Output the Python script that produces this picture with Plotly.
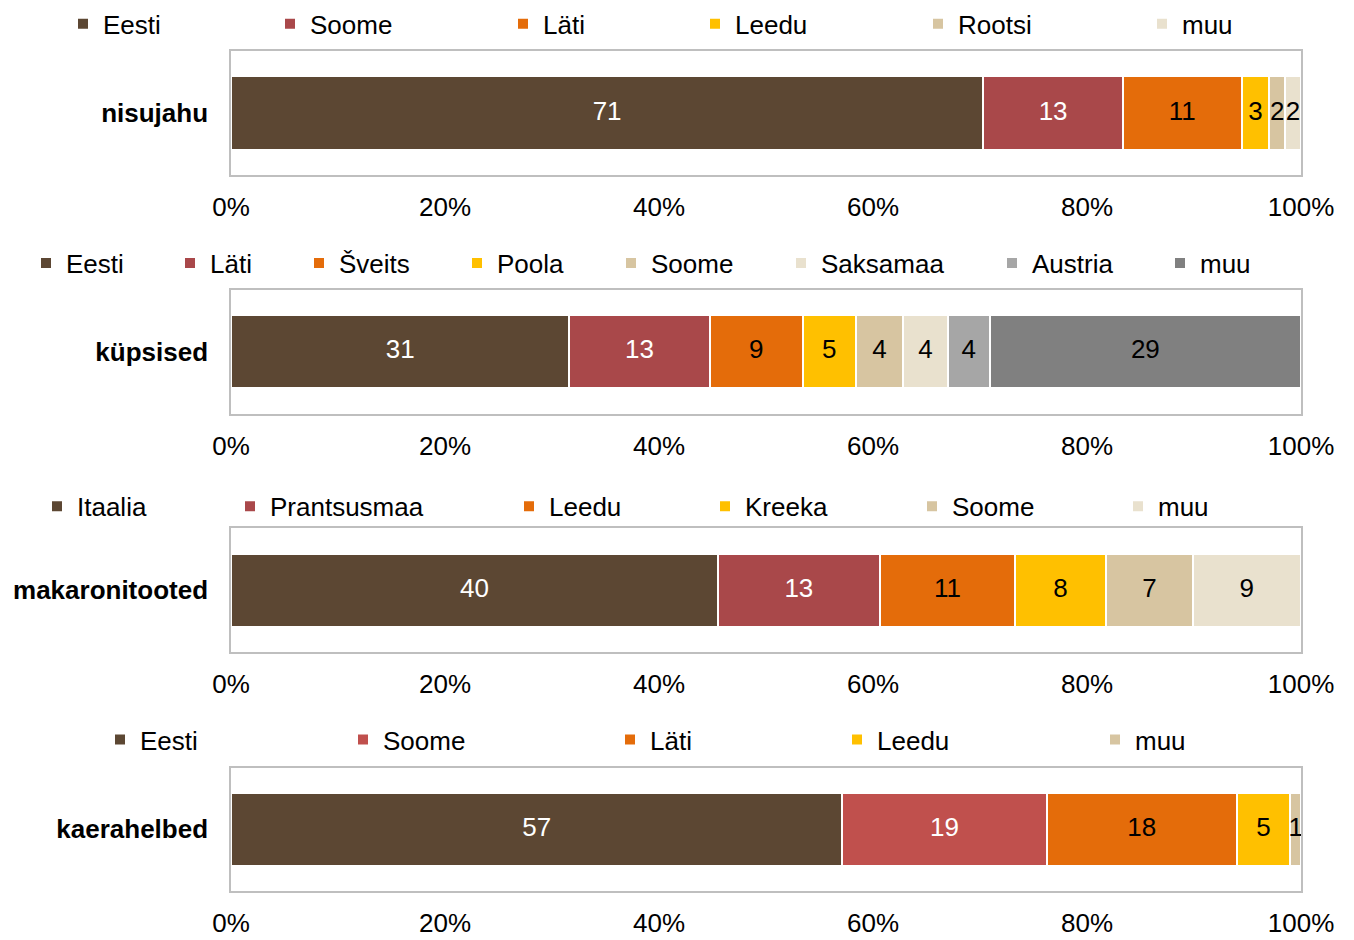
import plotly.graph_objects as go

# ---------------- data ----------------
categories = ["nisujahu", "küpsised", "makaronitooted", "kaerahelbed"]

countries_nisujahu = ["Eesti", "Soome", "Läti", "Leedu", "Rootsi", "muu"]
values_nisujahu = [71.0, 13.2, 11.2, 2.6, 1.5, 1.5]

countries_kupsised = ["Eesti", "Läti", "Šveits", "Poola", "Soome", "Saksamaa", "Austria", "muu"]
values_kupsised = [31.3, 13.0, 8.6, 4.9, 4.4, 4.1, 3.9, 28.8]

countries_makaron = ["Itaalia", "Prantsusmaa", "Leedu", "Kreeka", "Soome", "muu"]
values_makaron = [40.0, 13.3, 11.1, 7.5, 7.1, 8.9]

countries_kaer = ["Eesti", "Soome", "Läti", "Leedu", "muu"]
values_kaer = [57.2, 19.1, 17.8, 5.0, 1.0]

tick_values = [0, 20, 40, 60, 80, 100]
tick_labels = ["0%", "20%", "40%", "60%", "80%", "100%"]

# ---------------- styles ----------------
BROWN = "#5C4733"
RED = "#A9484A"
RED2 = "#C0504D"
ORANGE = "#E46C0A"
YELLOW = "#FFC000"
TAN = "#D7C5A1"
LIGHT = "#E9E1CE"
GREY = "#A6A6A6"
DGREY = "#808080"

colors_nisujahu = [BROWN, RED, ORANGE, YELLOW, TAN, LIGHT]
colors_kupsised = [BROWN, RED, ORANGE, YELLOW, TAN, LIGHT, GREY, DGREY]
colors_makaron = [BROWN, RED, ORANGE, YELLOW, TAN, LIGHT]
colors_kaer = [BROWN, RED2, ORANGE, YELLOW, TAN]

dark = {BROWN, RED, RED2}

# legend text-start x (px) per entry and legend row centre y (px)
legend_x_nisujahu = [103, 310, 543, 735, 958, 1182]
legend_x_kupsised = [66, 210, 339, 497, 651, 821, 1032, 1200]
legend_x_makaron = [77, 270, 549, 745, 952, 1158]
legend_x_kaer = [140, 383, 650, 877, 1135]
legend_y = [21, 261, 505, 739]

# plot area boxes (px, top/bottom)
plot_top = [48, 288, 527, 767]
plot_bot = [173, 412, 651, 891]
X0, X1 = 231, 1301
W, H = 1354, 940

FONT = "Liberation Sans, Arial, sans-serif"
FS = 26
TEXT_OFFSET = 40  # legend left -> legend text start

panels = [
    (countries_nisujahu, values_nisujahu, colors_nisujahu, legend_x_nisujahu),
    (countries_kupsised, values_kupsised, colors_kupsised, legend_x_kupsised),
    (countries_makaron, values_makaron, colors_makaron, legend_x_makaron),
    (countries_kaer, values_kaer, colors_kaer, legend_x_kaer),
]

fig = go.Figure()
layout = {}
leg_n = 0
for p, (names, vals, cols, lx) in enumerate(panels):
    ax = "" if p == 0 else str(p + 1)
    cat = categories[p]
    for name, v, c, tx in zip(names, vals, cols, lx):
        leg_n += 1
        lid = "legend" if leg_n == 1 else f"legend{leg_n}"
        fig.add_trace(go.Bar(
            x=[v], y=[cat], orientation="h", name=name,
            marker=dict(color=c, line=dict(color="white", width=2)),
            textposition="none", hoverinfo="skip", showlegend=True,
            xaxis="x" + ax, yaxis="y" + ax, legend=lid,
        ))
        layout[lid] = dict(
            x=(tx - TEXT_OFFSET) / W, y=1 - legend_y[p] / H,
            xanchor="left", yanchor="middle", orientation="h",
            font=dict(size=FS, family=FONT, color="black"),
            bgcolor="rgba(0,0,0,0)", borderwidth=0, itemclick=False,
            itemdoubleclick=False, visible=True,
        )
    # data labels: centred in each (normalised) segment
    total = sum(vals)
    mids, acc = [], 0.0
    for v in vals:
        mids.append((acc + v / 2) / total * 100)
        acc += v
    fig.add_trace(go.Scatter(
        x=mids, y=[cat] * len(vals), mode="text",
        text=[str(int(v + 0.5)) for v in vals],
        textposition="middle center",
        textfont=dict(size=FS, family=FONT,
                      color=["white" if c in dark else "black" for c in cols]),
        cliponaxis=False, hoverinfo="skip", showlegend=False,
        xaxis="x" + ax, yaxis="y" + ax,
    ))
    layout["xaxis" + ax] = dict(
        domain=[X0 / W, X1 / W], anchor="y" + ax, range=[0, 100],
        tickmode="array", tickvals=tick_values, ticktext=tick_labels,
        showgrid=False, zeroline=False,
        showline=True, mirror=True, linecolor="#BFBFBF", linewidth=1.5,
        ticks="", ticklabelstandoff=8, automargin=False,
        tickfont=dict(size=FS, family=FONT, color="black"),
    )
    layout["yaxis" + ax] = dict(
        domain=[1 - plot_bot[p] / H, 1 - plot_top[p] / H], anchor="x" + ax,
        range=[-0.5, 0.5], showgrid=False, zeroline=False,
        showline=True, mirror=True, linecolor="#BFBFBF", linewidth=1.5,
        ticks="", ticklabelstandoff=16, automargin=False,
        tickfont=dict(size=FS, family=FONT, color="black", weight="bold"),
    )

fig.update_layout(
    barmode="stack", barnorm="percent", bargap=0.408,
    width=W, height=H, margin=dict(l=0, r=0, t=0, b=0),
    paper_bgcolor="white", plot_bgcolor="white", showlegend=True,
    font=dict(family=FONT, size=FS, color="black"),
    **layout,
)

fig.write_html("out.html", config={"displayModeBar": False},
               post_script="document.body.style.margin='0';")
